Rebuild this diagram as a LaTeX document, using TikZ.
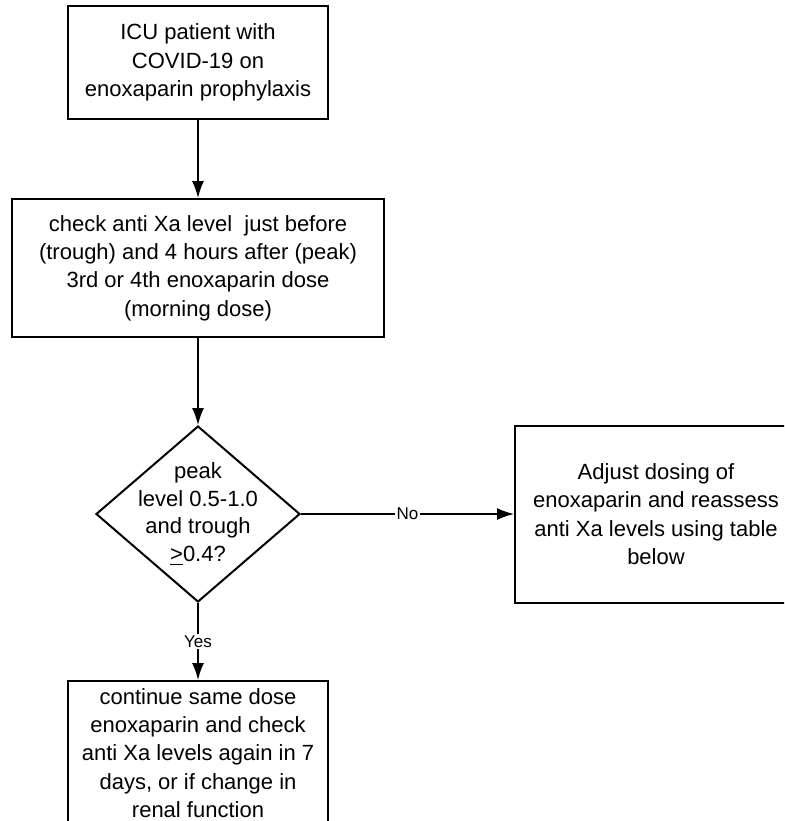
\documentclass[tikz,border=0pt]{standalone}
\usepackage{fontspec}
\setmainfont{Liberation Sans}
\usetikzlibrary{shapes.geometric, arrows.meta, positioning}

\begin{document}
\begin{tikzpicture}[
  box/.style={rectangle, draw=black, line width=1pt, align=center, font=\fontsize{11}{14.2}\selectfont},
  decision/.style={diamond, draw=black, line width=1pt, align=center, inner sep=-9pt, minimum width=102pt, minimum height=88pt, font=\fontsize{11}{13.9}\selectfont},
  flow/.style={line width=0.75pt, -{Latex[length=8.5pt,width=6pt]}},
  answer/.style={fill=white, inner sep=1pt, font=\fontsize{8.5}{10}\selectfont}
]
  \clip (0,0) rectangle (392pt,-410.5pt);
  \node[box, minimum width=130pt, minimum height=56.5pt] (icu_patient) at (99pt,-31.25pt) {ICU patient with\\COVID-19 on\\enoxaparin prophylaxis};
\node[box, minimum width=186pt, minimum height=69pt, below=39pt of icu_patient] (check_levels) {check anti Xa level \ just before\\(trough) and 4 hours after (peak)\\3rd or 4th enoxaparin dose\\(morning dose)};
\node[decision, below=43.5pt of check_levels] (in_range) {peak\\level 0.5-1.0\\and trough\\\underline{>}0.4?};
\node[box, minimum width=141pt, minimum height=88.5pt, right=106.5pt of in_range] (adjust_dose) {Adjust dosing of\\enoxaparin and reassess\\anti Xa levels using table\\below};
\node[box, minimum width=130pt, minimum height=72pt, below=38.5pt of in_range] (continue_dose) {continue same dose\\enoxaparin and check\\anti Xa levels again in 7\\days, or if change in\\renal function};
\path[flow]
	(icu_patient) edge (check_levels)
	(check_levels) edge (in_range)
	(in_range.east) edge node[answer] {No} (adjust_dose.west)
	(in_range.south) edge node[answer] {Yes} (continue_dose.north)
;
\end{tikzpicture}
\end{document}
